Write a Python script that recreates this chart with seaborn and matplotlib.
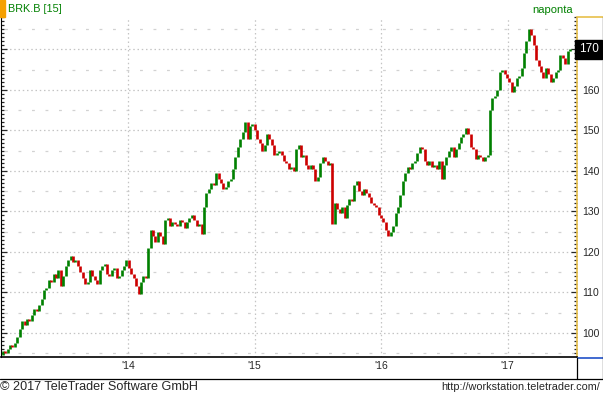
import pandas as pd
import matplotlib
matplotlib.use("Agg")
import matplotlib.pyplot as plt
import matplotlib.dates as mdates
from matplotlib.ticker import MultipleLocator, FixedLocator
from matplotlib.lines import Line2D
import seaborn as sns

# -------------------------------
# Data: weekly closes of BRK.B
# -------------------------------
first_open = 94.5
close_2013 = [95.5, 95, 96, 97, 96.5, 97.5, 99, 101, 103, 102, 103.5, 103, 104.5,
              106, 105.5, 107, 108.5, 110.5, 111, 113, 112.5, 114.5, 113.5, 115.5,
              111.5, 114, 116.5, 118, 119, 117.5, 118, 116.5, 115, 113.5, 112,
              112.5, 115.5, 114, 113, 112, 115.5, 116.5, 117, 114.5, 114, 115.5,
              116, 113.5, 114, 115.5, 116.5, 118]
close_2014 = [116, 114.5, 113.5, 111.5, 109.5, 112.5, 114, 113.5, 121, 125.5, 124,
              122.5, 125, 124, 122, 128, 128.5, 126.5, 127.5, 127, 126.5, 128,
              127.5, 126, 127.5, 128.5, 129, 128, 126.5, 127, 124.5, 131, 134.5,
              135.5, 137, 136.5, 139.5, 138, 137, 135.5, 136, 137.5, 138, 140.5,
              143.5, 146, 148, 149.5, 152, 148, 151, 151.5]
close_2015 = [150, 148, 147, 145, 146.5, 149, 148, 146.5, 144, 144.5, 145, 144,
              142.5, 142, 140.5, 141, 140, 145.5, 146.5, 143.5, 144, 141.5, 140.5,
              141.5, 140.5, 137.5, 138.5, 142, 143.5, 142.5, 141.5, 142, 127, 132,
              130.5, 129.5, 131, 128.5, 131.5, 133, 132.5, 136.5, 137.5, 135, 134,
              135.5, 134.5, 133.5, 132, 131.5, 131, 129]
close_2016 = [128.5, 127.5, 125.5, 124, 125, 126.5, 129.5, 131, 134, 137.5, 139.5,
              141, 140.5, 142, 142.5, 144.5, 146, 145.5, 142.5, 141.5, 142.5, 141,
              141.5, 140.5, 142.5, 138, 141.5, 143.5, 145, 146, 143.5, 145.5, 147,
              148.5, 149, 150.5, 149, 146, 145.5, 143, 144, 143.5, 142.5, 143.5,
              144, 155, 158, 158.5, 160, 164.5, 165, 164, 163]
close_2017 = [162, 159.5, 161, 163, 163.5, 165.5, 169, 172, 175, 173.5, 171, 167.5,
              166, 164.5, 163, 165.5, 164, 162, 163, 164.5, 165, 168.5, 168, 166.5,
              169.5, 170]

year_ticks = ["2014-01-01", "2015-01-01", "2016-01-01", "2017-01-01"]
year_labels = ["'14", "'15", "'16", "'17"]
price_ticks = [100, 110, 120, 130, 140, 150, 160, 170]

closes = close_2013 + close_2014 + close_2015 + close_2016 + close_2017
dates = pd.date_range("2013-01-04", periods=len(closes), freq="W-FRI")
df = pd.DataFrame({"date": dates, "open": [first_open] + closes[:-1], "close": closes})
df["up"] = df["close"] >= df["open"]

GREEN = "#008000"
RED = "#cc0000"

sns.set_style("white")
plt.rcParams["font.family"] = ["Liberation Sans", "DejaVu Sans"]

W, H = 603, 396
fig = plt.figure(figsize=(W / 100, H / 100), dpi=100)
ax = fig.add_axes([1 / W, 1 - 357 / H, 576 / W, 340 / H])

# grid: dotted at tens, sparse dashes at fives, dotted year lines
for v in range(95, 180, 5):
    if v % 10 == 0:
        ax.axhline(v, color="#c4c4c4", lw=0.9, ls=(0, (1.2, 2.2)), zorder=0)
    else:
        ax.axhline(v, color="#d2d2d2", lw=0.9, ls=(8, (2.3, 8.5)), zorder=0)
for d in year_ticks:
    ax.axvline(pd.Timestamp(d), color="#c4c4c4", lw=0.9, ls=(0, (1.2, 2.2)), zorder=0)

# candle bodies
colors = [GREEN if u else RED for u in df["up"]]
ax.vlines(df["date"], df["open"], df["close"], colors=colors, lw=1.9, zorder=3)

ax.set_xlim(pd.Timestamp("2012-12-30"), pd.Timestamp("2017-07-20"))
ax.set_ylim(94.07, 178.0)

ax.xaxis.set_major_locator(FixedLocator(mdates.date2num(pd.to_datetime(year_ticks))))
ax.set_xticklabels(year_labels, fontsize=7.5)
ax.tick_params(axis="x", length=0, pad=3)

last = closes[-1]
ax.yaxis.set_major_locator(FixedLocator(price_ticks))
ax.set_yticklabels(["" if t == round(last) else str(t) for t in price_ticks])
ax.yaxis.set_minor_locator(MultipleLocator(1))
ax.tick_params(axis="y", which="both", left=True, right=True, labelleft=False,
               labelright=True, direction="in", labelsize=7.5, pad=4)
ax.tick_params(axis="y", which="major", length=4, width=0.9)
ax.tick_params(axis="y", which="minor", length=2, width=0.9)
ax.set_xlabel("")
ax.set_ylabel("")

ax.spines["top"].set_visible(False)
ax.spines["left"].set_color("black")
ax.spines["bottom"].set_color("black")
ax.spines["bottom"].set_linewidth(1.2)
ax.spines["right"].set_color("#e8c04a")
ax.spines["right"].set_linewidth(1.2)

# last price marker
ax.text(1.003, last, f"{last:.0f}", transform=ax.get_yaxis_transform(),
        color="white", fontsize=8.5, va="center", ha="left",
        bbox=dict(boxstyle="square,pad=0.3", fc="black", ec="black"), zorder=5)

# frame lines in pixel coordinates
ov = fig.add_axes([0, 0, 1, 1], facecolor="none")
ov.set_xlim(0, W)
ov.set_ylim(H, 0)
ov.axis("off")
ov.add_line(Line2D([577.5, 603], [17, 17], color="#e8c04a", lw=1.2))
ov.add_line(Line2D([577.5, 603], [357.5, 357.5], color="#2050c8", lw=1.2))
ov.add_line(Line2D([602.5, 602.5], [17, 379], color="black", lw=0.9))
ov.add_line(Line2D([0, 603], [378.5, 378.5], color="black", lw=0.9))
ov.add_line(Line2D([576.5, 576.5], [358, 379], color="black", lw=0.9))
ov.add_patch(plt.Rectangle((0, 0), 5, 17, color="#f5a000"))

fig.text(8 / W, 1 - 9 / H, "BRK.B [15]", color=GREEN, fontsize=7.8, va="center", ha="left")
fig.text(573 / W, 1 - 10 / H, "naponta", color=GREEN, fontsize=8, va="center", ha="right")
fig.text(0, 1 - 387 / H, "\u00a9 2017 TeleTrader Software GmbH", fontsize=9.1,
         va="center", ha="left")
fig.text(600 / W, 1 - 387 / H, "http://workstation.teletrader.com/", fontsize=7.8,
         va="center", ha="right")

fig.savefig("out.png", dpi=100)
